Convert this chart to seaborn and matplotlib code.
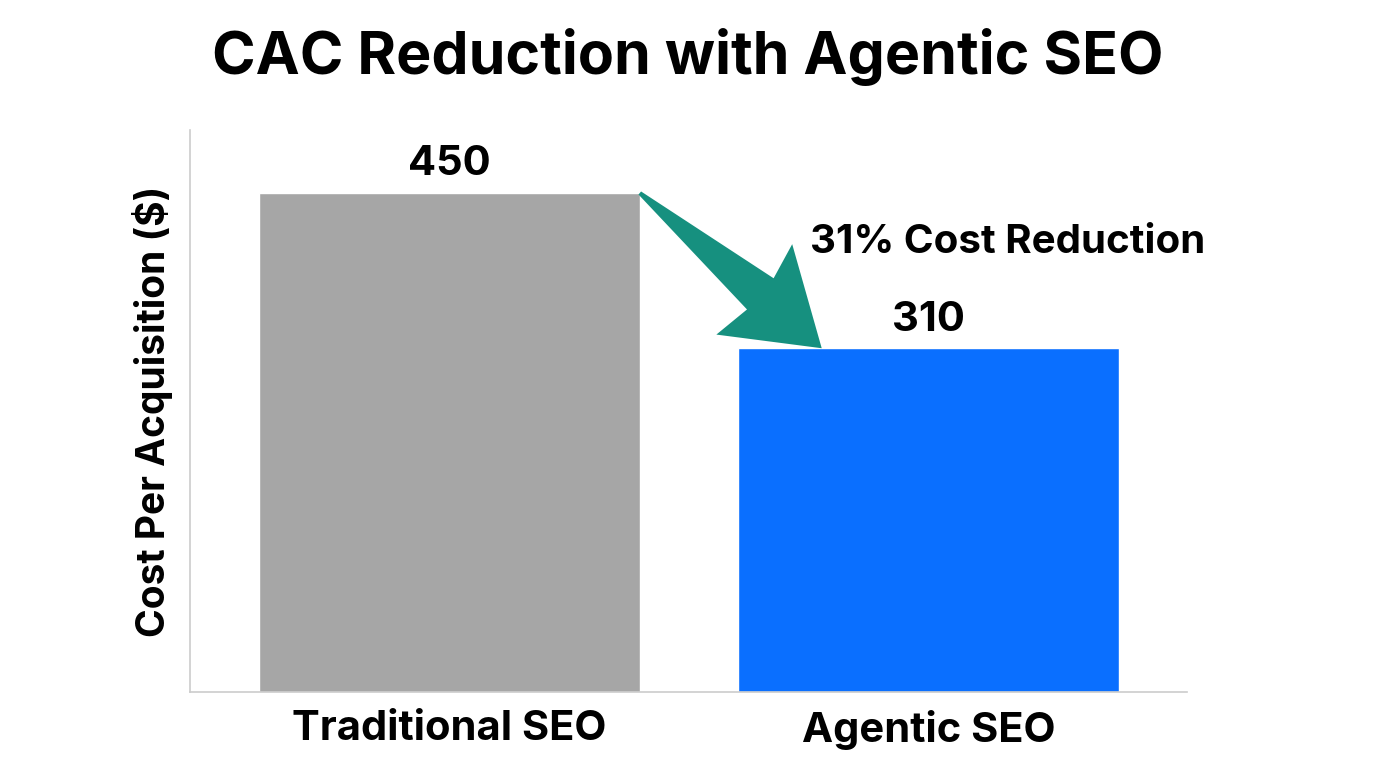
import matplotlib
matplotlib.use("Agg")
import matplotlib.pyplot as plt
from matplotlib.patches import Polygon
import seaborn as sns
import pandas as pd
import numpy as np

# chart values
methods = ["Traditional SEO", "Agentic SEO"]
cac = [450, 310]
bar_colors = ["#a6a6a6", "#0a6fff"]
reduction_label = "31% Cost Reduction"

sns.set_theme(style="white")
plt.rcParams['font.family'] = ['Inter', 'DejaVu Sans']
plt.rcParams['text.color'] = 'black'
plt.rcParams['axes.labelcolor'] = 'black'
plt.rcParams['xtick.color'] = 'black'

df = pd.DataFrame({"Method": methods, "CAC": cac})

fig = plt.figure(figsize=(13.76, 7.68), dpi=100)
ax = fig.add_axes([0.138, 0.099, 0.725, 0.732])

sns.barplot(data=df, x="Method", y="CAC", hue="Method",
            palette=dict(zip(methods, bar_colors)), width=0.795,
            saturation=1, legend=False, ax=ax)

for c in ax.containers:
    ax.bar_label(c, fmt="%d", padding=7, fontsize=30, fontweight='bold')

ax.set_xlim(-0.541, 1.540)
ax.set_ylim(0, 507)
ax.set_yticks([])
ax.set_xlabel("")
ax.set_ylabel("Cost Per Acquisition ($)", fontsize=28, fontweight='bold', labelpad=12)
ax.tick_params(axis='x', length=0, labelsize=30, pad=13)
for lab in ax.get_xticklabels():
    lab.set_fontweight('bold')

for side in ["top", "right"]:
    ax.spines[side].set_visible(False)
for side in ["left", "bottom"]:
    ax.spines[side].set_color("#cccccc")
    ax.spines[side].set_linewidth(1.2)

# fat arrow from the top of the first bar to the top of the second bar,
# built in pixel space so its shape does not stretch with the axes
bw = 0.795 / 2
p0 = ax.transData.transform((bw, cac[0]))
p1 = ax.transData.transform((0.777, cac[1]))
d = p1 - p0
length = np.hypot(*d)
u = d / length
n = np.array([-u[1], u[0]])
shape = [(0, 2), (length - 82, 22), (length - 90, 60), (length, 0),
         (length - 89, -58), (length - 82, -19), (0, -2)]
pts = [p0 + a * u + b * n for a, b in shape]
pts = ax.transData.inverted().transform(pts)
ax.add_patch(Polygon(pts, closed=True, facecolor="#16907f", edgecolor="none",
                     clip_on=False, zorder=3))

ax.text(0.752, 405, reduction_label, ha='left', va='center',
        fontsize=29, fontweight='bold')

fig.suptitle("CAC Reduction with Agentic SEO", y=0.926, va='center',
             fontsize=42.5, fontweight='bold')

fig.savefig("out.png", dpi=100)
